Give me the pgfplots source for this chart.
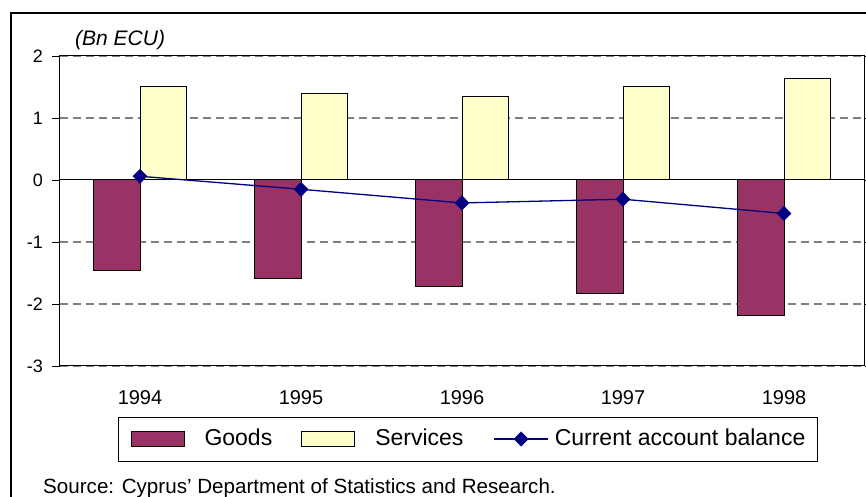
\documentclass[border=0pt]{standalone}
\usepackage{fontspec}
\setmainfont{Liberation Sans}
\usepackage{pgfplots}
\pgfplotsset{compat=1.18}
\definecolor{goods}{HTML}{993366}
\definecolor{serv}{HTML}{FFFFCC}
\definecolor{navyc}{HTML}{000080}
\definecolor{gridc}{HTML}{808080}
\pgfplotsset{
  mybarlegend/.style={legend image code/.code={\draw[##1] (0pt,-7.5pt) rectangle (53pt,7.5pt);}},
  mylinelegend/.style={legend image code/.code={\draw[##1, mark repeat=2, mark phase=2] plot coordinates {(0pt,0pt) (27pt,0pt) (54pt,0pt)};}},
}
\begin{document}
\begin{tikzpicture}[x=1pt,y=1pt]
\clip (0,0) rectangle (866,497);
\fill[white] (0,0) rectangle (866,497);
\draw[line width=1.3pt] (11,-5) |- (880,484);
\node[anchor=base west, inner sep=0pt, font=\fontsize{21}{25}\selectfont\itshape] at (75,451) {(Bn ECU)};
\node[anchor=base west, inner sep=0pt, font=\fontsize{20.6}{24}\selectfont] at (43,3) {Source: Cyprus’ Department of Statistics and Research.};
\begin{axis}[
  at={(59.5pt,131pt)}, anchor=south west,
  scale only axis, width=805pt, height=310pt,
  xmin=-0.5, xmax=4.5, ymin=-3, ymax=2,
  xtick={0,1,2,3,4}, xticklabels={1994,1995,1996,1997,1998},
  x tick label style={font=\fontsize{20}{24}\selectfont, yshift=-14pt},
  x tick style={draw=none},
  ytick={-3,-2,-1,1,2}, yticklabels={-3,-2,-1,1,2},
  extra y ticks={0}, extra y tick labels={0},
  extra y tick style={grid style={solid, black, line width=1pt}},
  y tick label style={font=\fontsize{18}{21}\selectfont, xshift=-6pt},
  tick align=outside, major tick length=7pt,
  y tick style={black, line width=0.9pt},
  ymajorgrids,
  grid style={gridc, line width=1.2pt, dash pattern=on 8pt off 5pt},
  axis line style={black, line width=1pt},
  legend columns=3,
  legend style={at={(0.0727,-0.2355)}, anchor=west, draw=black, line width=1pt,
    inner xsep=12pt, inner ysep=11pt, column sep=0pt,
    nodes={inner sep=0pt, text height=17pt, text depth=5pt, font=\fontsize{23}{27}\selectfont}},
  legend cell align=left,
]
\addplot[ybar, bar width=46.5pt, bar shift=-23.25pt, fill=goods, draw=black, line width=1pt, mybarlegend]
  coordinates {(0,-1.46) (1,-1.59) (2,-1.72) (3,-1.83) (4,-2.19)};
\addlegendentry{\hspace*{20pt}Goods\hspace*{29pt}}
\addplot[ybar, bar width=46.5pt, bar shift=23.25pt, fill=serv, draw=black, line width=1pt, mybarlegend]
  coordinates {(0,1.50) (1,1.40) (2,1.35) (3,1.51) (4,1.63)};
\addlegendentry{\hspace*{20pt}Services\hspace*{30pt}}
\addplot[navyc, line width=1.3pt, mark=diamond*, mark size=6.6pt,
  mark options={solid, fill=navyc, xscale=1.3}, mylinelegend]
  coordinates {(0,0.06) (1,-0.15) (2,-0.37) (3,-0.31) (4,-0.54)};
\addlegendentry{\hspace*{6pt}Current account balance}
\end{axis}
\end{tikzpicture}
\end{document}
